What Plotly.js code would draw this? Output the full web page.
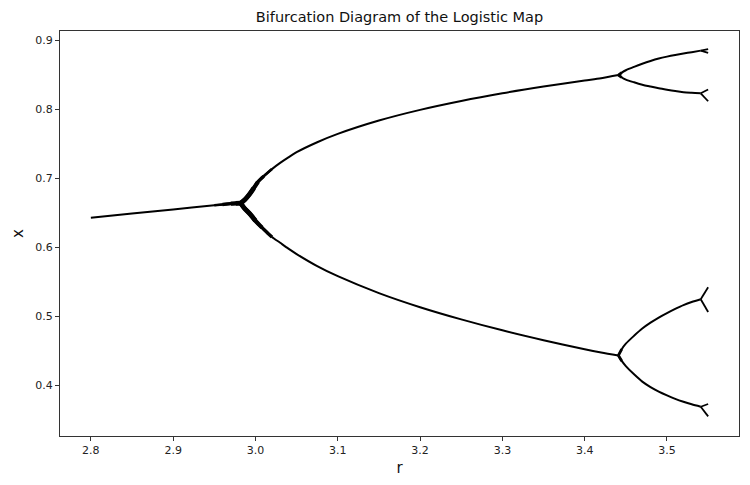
<!DOCTYPE html>
<html>
<head>
<meta charset="utf-8">
<script src="https://cdn.plot.ly/plotly-3.0.1.min.js"></script>
<style>html,body{margin:0;padding:0;background:#fff;}#chart{width:750px;height:485px;}</style>
</head>
<body>
<div id="chart"></div>
<script>
// Values (r on x axis, x on y axis)
const rFixed = [2.80, 2.85, 2.90, 2.95, 2.96, 2.97, 2.976, 2.982];
const xFixed = [0.643, 0.649, 0.655, 0.661, 0.6621, 0.6633, 0.6638, 0.664];

const rP2Upper = [2.982, 2.987, 2.992, 2.998, 3.003, 3.010, 3.020, 3.030, 3.040, 3.050, 3.075, 3.100, 3.150, 3.200, 3.250, 3.300, 3.350, 3.400, 3.420, 3.441];
const xP2Upper = [0.664, 0.669, 0.676, 0.686, 0.695, 0.703, 0.7135, 0.7225, 0.7305, 0.738, 0.7525, 0.7646, 0.784, 0.7995, 0.8124, 0.8236, 0.8334, 0.8421, 0.8455, 0.850];

const rP2Lower = [2.982, 2.986, 2.994, 3.000, 3.008, 3.015, 3.020, 3.030, 3.040, 3.050, 3.075, 3.100, 3.150, 3.200, 3.250, 3.300, 3.350, 3.400, 3.420, 3.441];
const xP2Lower = [0.664, 0.6575, 0.6475, 0.6385, 0.6285, 0.6205, 0.615, 0.6065, 0.598, 0.5902, 0.5727, 0.558, 0.5335, 0.513, 0.4953, 0.4794, 0.4651, 0.452, 0.4473, 0.443];

const rP4 = [3.441, 3.445, 3.450, 3.460, 3.470, 3.480, 3.490, 3.500, 3.510, 3.520, 3.530, 3.541];
const xP4UpperUpper = [0.850, 0.8535, 0.857, 0.862, 0.8665, 0.8705, 0.874, 0.8768, 0.8792, 0.8813, 0.8833, 0.8855];
const xP4UpperLower = [0.850, 0.8465, 0.8435, 0.8395, 0.836, 0.8333, 0.8308, 0.8287, 0.8268, 0.8252, 0.8243, 0.8236];
const xP4LowerUpper = [0.443, 0.452, 0.460, 0.4715, 0.482, 0.4905, 0.498, 0.5045, 0.5105, 0.516, 0.5205, 0.5245];
const xP4LowerLower = [0.443, 0.435, 0.4275, 0.4155, 0.405, 0.397, 0.3905, 0.385, 0.380, 0.3757, 0.372, 0.3685];

// period-8 hooks at the right end
const rP8 = [3.541, 3.550];
const xP8Hooks = [
  [0.8855, 0.8878], [0.8855, 0.8822],
  [0.8236, 0.8290], [0.8236, 0.8120],
  [0.5245, 0.5420], [0.5245, 0.5060],
  [0.3685, 0.3725], [0.3685, 0.3545]
];

const xTickVals = [2.8, 2.9, 3.0, 3.1, 3.2, 3.3, 3.4, 3.5];
const xTickText = ['2.8', '2.9', '3.0', '3.1', '3.2', '3.3', '3.4', '3.5'];
const yTickVals = [0.4, 0.5, 0.6, 0.7, 0.8, 0.9];
const yTickText = ['0.4', '0.5', '0.6', '0.7', '0.8', '0.9'];

function seg(rs, xs, w) {
  return {x: rs, y: xs, type: 'scatter', mode: 'lines', hoverinfo: 'skip',
          line: {color: '#000', width: w, shape: 'spline', smoothing: 0.8}, showlegend: false};
}
function pick(rs, xs, lo, hi) {
  const r = [], x = [];
  rs.forEach((v, i) => { if (v >= lo && v <= hi) { r.push(v); x.push(xs[i]); } });
  return [r, x];
}

const traces = [];
traces.push(seg(rFixed, xFixed, 2));
traces.push(seg(rP2Upper, xP2Upper, 2));
traces.push(seg(rP2Lower, xP2Lower, 2));
[xP4UpperUpper, xP4UpperLower, xP4LowerUpper, xP4LowerLower].forEach(xs => traces.push(seg(rP4, xs, 2)));
xP8Hooks.forEach(xs => traces.push(seg(rP8, xs, 1.8)));

// graded thickness where the transient spreads near the r = 3 bifurcation
const blob = [
  [2.95, 3.025, 3.016, 2.7],
  [2.96, 3.012, 3.020, 3.4],
  [2.97, 3.004, 3.008, 4.2],
  [2.976, 2.998, 3.000, 4.8]
];
blob.forEach(b => {
  let p = pick(rFixed, xFixed, b[0], 2.99); traces.push(seg(p[0], p[1], b[3]));
  p = pick(rP2Upper, xP2Upper, 2.98, b[1]); traces.push(seg(p[0], p[1], b[3]));
  p = pick(rP2Lower, xP2Lower, 2.98, b[2]); traces.push(seg(p[0], p[1], b[3]));
});
// slight thickening at the period-4 fork
[[xP2Upper, xP4UpperUpper, xP4UpperLower], [xP2Lower, xP4LowerUpper, xP4LowerLower]].forEach(g => {
  let p = pick(rP2Upper, g[0], 3.43, 3.45); traces.push(seg(p[0], p[1], 3));
  p = pick(rP4, g[1], 3.44, 3.445); traces.push(seg(p[0], p[1], 2.8));
  p = pick(rP4, g[2], 3.44, 3.445); traces.push(seg(p[0], p[1], 2.8));
});

const axisCommon = {
  showgrid: false, zeroline: false, showline: true, mirror: true,
  linecolor: '#333', linewidth: 1, ticks: 'outside', ticklen: 4, tickwidth: 1,
  tickcolor: '#333', tickfont: {family: 'DejaVu Sans', size: 11, color: '#222'}
};

const layout = {
  width: 750, height: 485,
  margin: {l: 60, r: 11, t: 31, b: 49},
  paper_bgcolor: '#fff', plot_bgcolor: '#fff',
  title: {text: 'Bifurcation Diagram of the Logistic Map', x: 0.5, xref: 'paper',
          y: 0.965, yref: 'container', yanchor: 'middle',
          font: {family: 'DejaVu Sans', size: 14.5, color: '#111'}},
  xaxis: Object.assign({}, axisCommon, {
    range: [2.7625, 3.5875], tickvals: xTickVals, ticktext: xTickText,
    title: {text: 'r', standoff: 6, font: {family: 'DejaVu Sans', size: 15, color: '#111'}}
  }),
  yaxis: Object.assign({}, axisCommon, {
    range: [0.326, 0.914], tickvals: yTickVals, ticktext: yTickText,
    title: {text: 'x', standoff: 8, font: {family: 'DejaVu Sans', size: 15, color: '#111'}}
  })
};

Plotly.newPlot('chart', traces, layout, {displayModeBar: false, staticPlot: true});
</script>
</body>
</html>
